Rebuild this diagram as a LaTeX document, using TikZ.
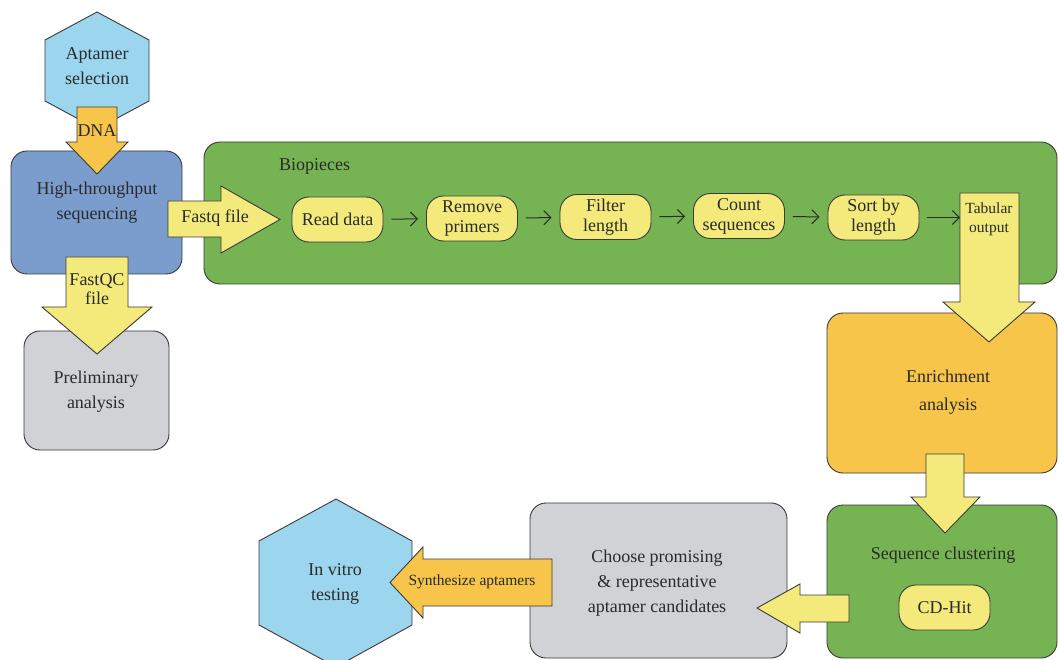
\documentclass[tikz,border=0pt]{standalone}
\usepackage{fontspec}
\setmainfont{Liberation Serif}
\usetikzlibrary{arrows.meta}
\definecolor{hexblue}{HTML}{9CD6EE}
\definecolor{boxblue}{HTML}{7B9DCD}
\definecolor{grn}{HTML}{76B453}
\definecolor{yel}{HTML}{F3EA7B}
\definecolor{org}{HTML}{F6C54A}
\definecolor{gry}{HTML}{D1D2D6}
\definecolor{lc}{HTML}{3A3A3A}
\definecolor{tc}{HTML}{2A2A2A}
\newcommand{\mainsz}{\fontsize{18}{25}\selectfont}
\newcommand{\pillsz}{\fontsize{18}{20}\selectfont}
\newcommand{\smallsz}{\fontsize{15.5}{19}\selectfont}
\tikzset{
  box/.style={draw=lc, line width=0.9pt, rounded corners=16pt, inner sep=0pt},
  pill/.style={draw=lc, fill=yel, line width=0.9pt, rounded corners=17pt,
    minimum width=91pt, minimum height=45pt, align=center, inner sep=0pt,
    text=tc, font=\pillsz},
  blk/.style={draw=lc, line width=0.9pt, line join=miter},
  lbl/.style={text=tc, align=center, font=\mainsz, inner sep=0pt},
  slbl/.style={text=tc, align=center, font=\smallsz, inner sep=0pt},
  thin/.style={->, >={Straight Barb[length=7pt,width=14pt,line width=1pt]}, line width=1pt, draw=tc,
    shorten <=8pt, shorten >=8pt},
}
\begin{document}
\begin{tikzpicture}[x=1pt,y=-1pt]
\clip (0,0) rectangle (1058,660);
\fill[white] (0,0) rectangle (1058,660);

% hexagons
\draw[blk, fill=hexblue] (97,12) -- (149,40) -- (149,101) -- (97,129) -- (45,101) -- (45,40) -- cycle;
\node[lbl] (aptsel) at (97,66) {Aptamer\\selection};
\draw[blk, fill=hexblue] (336,499) -- (412,541) -- (412,625) -- (336,667) -- (259,625) -- (259,541) -- cycle;
\node[lbl] (vitro) at (335,584) {In vitro\\testing};

% big boxes
\node[box, fill=boxblue, minimum width=171pt, minimum height=123pt] (hts) at (96.5,212.5) {};
\node[lbl] (htst) at (97,203) {High-throughput\\sequencing};
\node[box, fill=grn, minimum width=853pt, minimum height=142pt] (bio) at (630.5,213) {};
\node[lbl, anchor=west] (biot) at (279,166) {Biopieces};
\node[box, fill=gry, minimum width=145pt, minimum height=119pt] (prelim) at (96.5,390.5) {};
\node[lbl] (prelimt) at (96,392) {Preliminary\\analysis};
\node[box, fill=org, minimum width=230pt, minimum height=160pt] (enrich) at (942,393) {};
\node[lbl, font=\fontsize{18}{28}\selectfont] (enricht) at (948,392) {Enrichment\\analysis};
\node[box, fill=grn, minimum width=230pt, minimum height=153pt] (clust) at (942,581.5) {};
\node[lbl] (clustt) at (943,555) {Sequence clustering};
\node[box, fill=gry, minimum width=257pt, minimum height=155pt] (choose) at (658.5,580.5) {};
\node[lbl] (chooset) at (657,583) {Choose promising\\\&\ representative\\aptamer candidates};

% pills
\node[pill] (rd) at (337.5,219.5) {Read data};
\node[pill] (rp) at (472,218.5) {Remove\\primers};
\node[pill] (fl) at (605.5,217) {Filter\\length};
\node[pill] (cs) at (739,216) {Count\\sequences};
\node[pill] (sl) at (873.5,217.5) {Sort by\\length};
\node[pill] (cd) at (944.5,607.5) {CD-Hit};
\coordinate (tab) at (962,217.5);

\draw[thin] (rd) -- (rp);
\draw[thin] (rp) -- (fl);
\draw[thin] (fl) -- (cs);
\draw[thin] (cs) -- (sl);
\draw[thin, shorten >=2pt] (sl.east) -- (tab);

% block arrows
\draw[blk, fill=org] (77,107) -- (117,107) -- (117,142) -- (128,142) -- (97,174) -- (66,142) -- (77,142) -- cycle;
\node[lbl] (dna) at (97,131) {DNA};
\draw[blk, fill=yel] (168,201) -- (221,201) -- (221,186) -- (280,219.5) -- (221,253) -- (221,237) -- (168,237) -- cycle;
\node[lbl] (fastq) at (215,218) {Fastq file};
\draw[blk, fill=yel] (66,257) -- (128,257) -- (128,307) -- (152,307) -- (97,354) -- (42,307) -- (66,307) -- cycle;
\node[lbl, font=\fontsize{18}{19}\selectfont] (fastqc) at (97,289) {FastQC\\file};
\draw[blk, fill=yel] (960,193) -- (1019,193) -- (1019,302) -- (1035,302) -- (989,342) -- (943,302) -- (960,302) -- cycle;
\node[slbl] (tabt) at (989,219) {Tabular\\output};
\draw[blk, fill=yel] (926,454) -- (964,454) -- (964,497) -- (980,497) -- (945,533) -- (911,497) -- (926,497) -- cycle;
\draw[blk, fill=yel] (849,595) -- (849,622) -- (800,622) -- (800,633) -- (757,608) -- (800,584) -- (800,595) -- cycle;
\draw[blk, fill=org] (552,559) -- (552,606) -- (423,606) -- (423,618) -- (390,582.5) -- (423,547) -- (423,559) -- cycle;
\node[slbl] (synth) at (472,582) {Synthesize aptamers};
\end{tikzpicture}
\end{document}
